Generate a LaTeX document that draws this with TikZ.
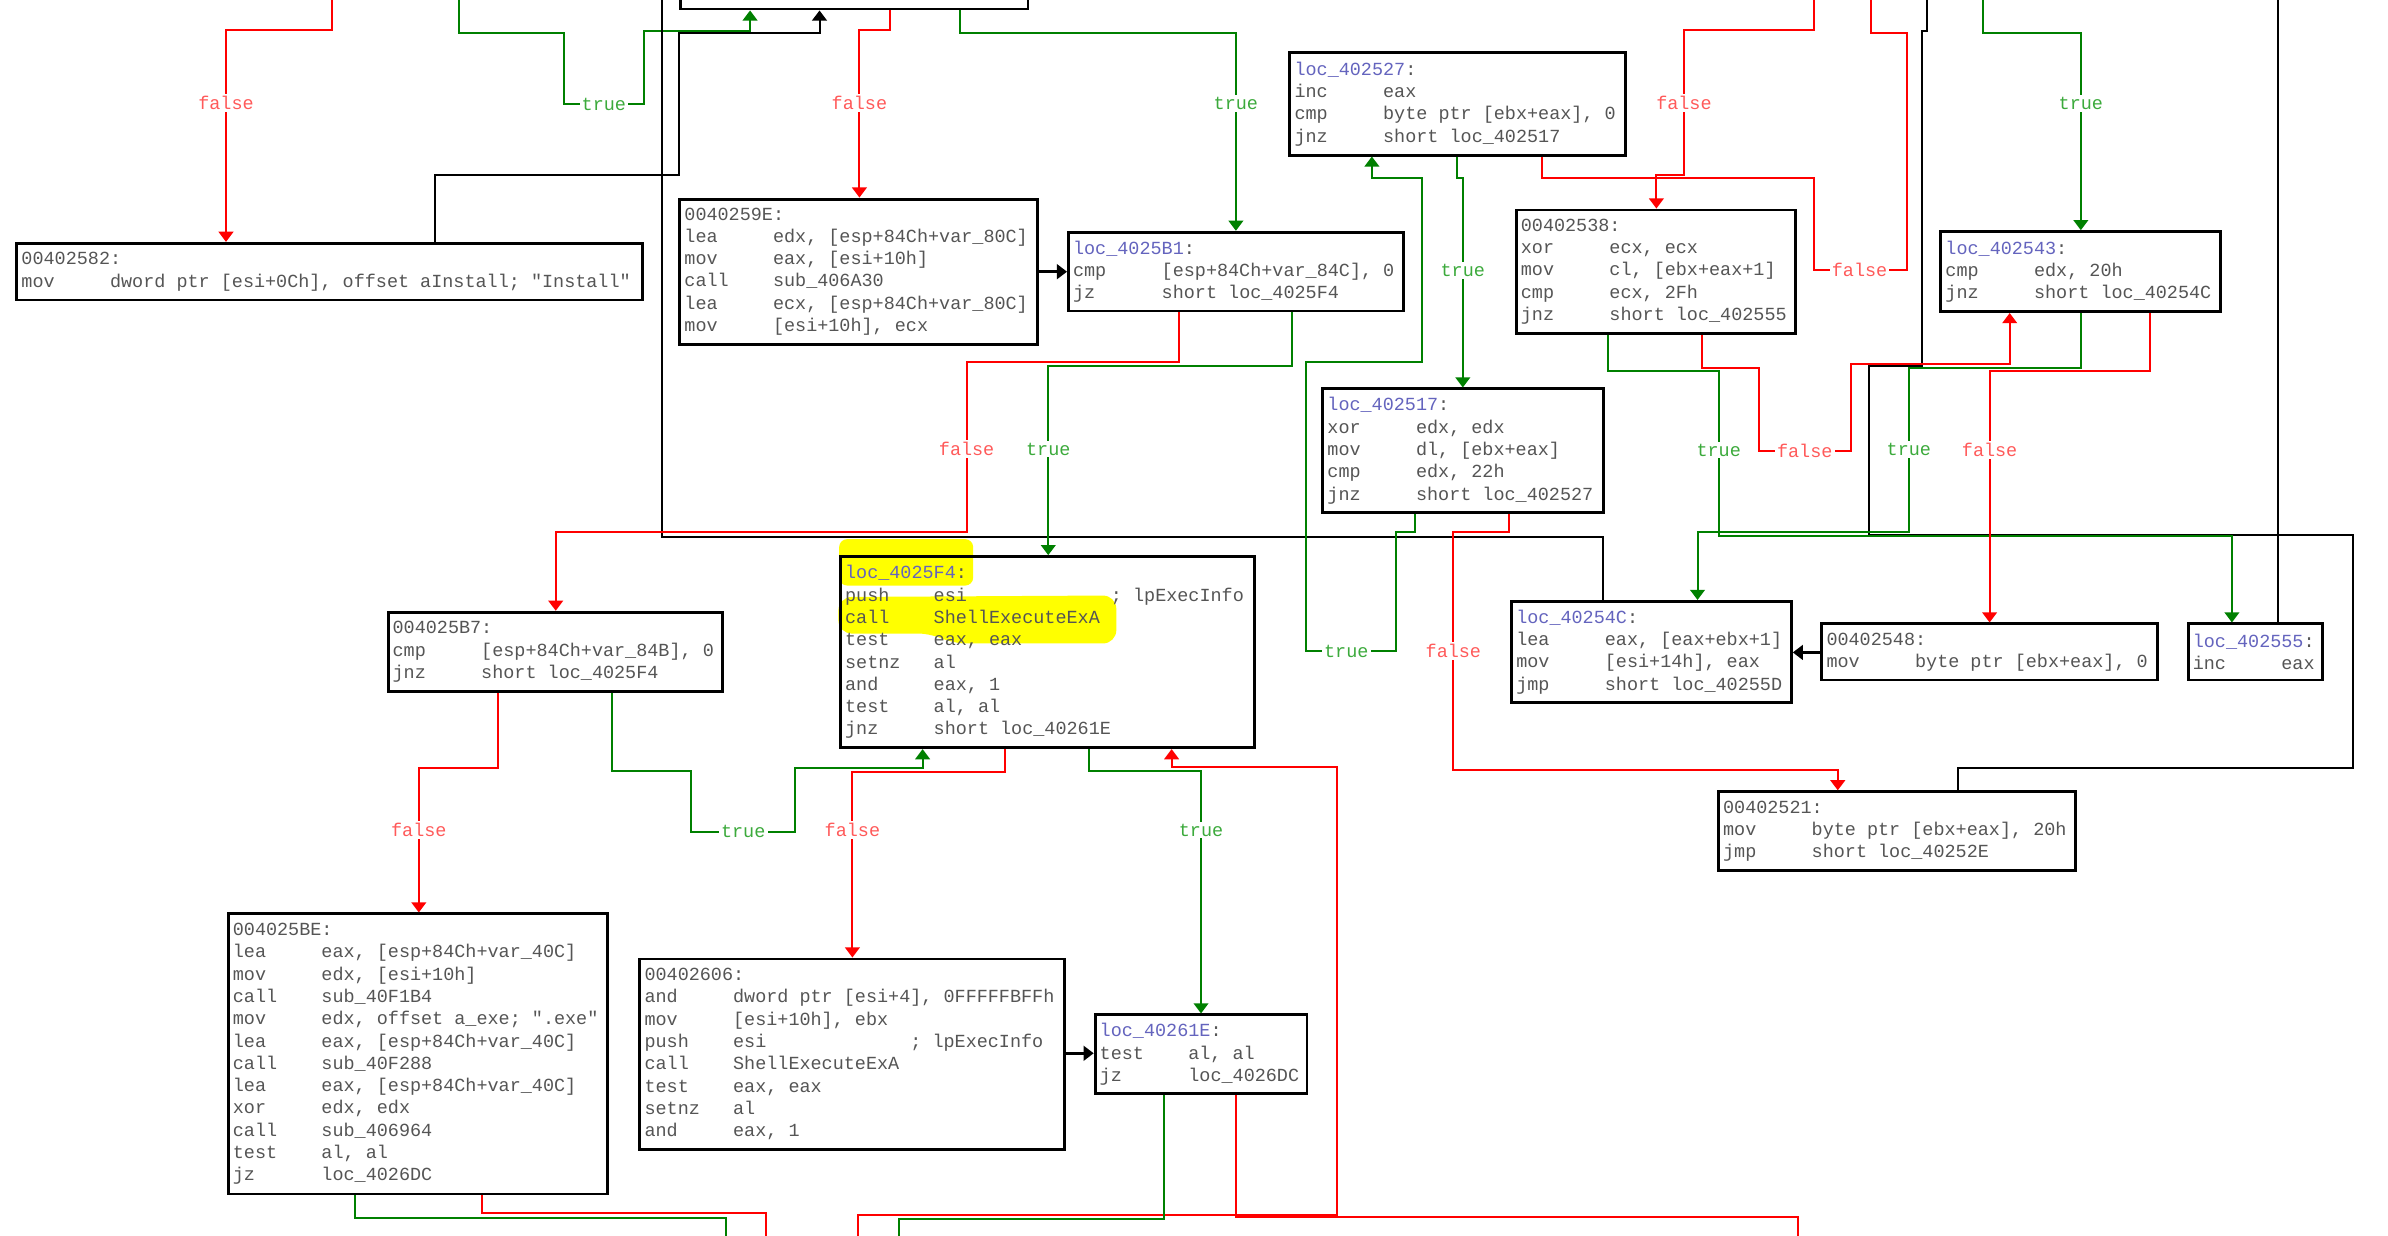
\documentclass[tikz,border=0pt]{standalone}
\usepackage{fontspec}
\setmonofont{Liberation Mono}
\usetikzlibrary{arrows.meta}
\definecolor{ered}{RGB}{255,0,0}
\definecolor{egreen}{RGB}{0,128,0}
\definecolor{lred}{RGB}{255,90,90}
\definecolor{lgreen}{RGB}{60,170,60}
\definecolor{itext}{RGB}{85,85,85}
\definecolor{locblue}{RGB}{100,100,190}
\definecolor{hl}{RGB}{255,255,0}
\newcommand\ia[2]{\mbox{\spaceskip=0.6em\relax\makebox[4.8em][l]{#1}#2}}
\newcommand\loclbl[1]{\textcolor{locblue}{#1}:}
\newcommand\blk[6]{%
  \pgfmathsetmacro\bw{(#4-(#2))*0.02}%
  \pgfmathsetmacro\bh{(#5-(#3))*0.02}%
  \pgfmathsetmacro\tw{(#4-(#2))*0.02-0.12}%
  \node[blockbox,minimum width=\bw cm,minimum height=\bh cm,text width=\tw cm] (#1) at ({(#2+#4)/2},{(#3+#5)/2}) {#6};}
\begin{document}
\begin{tikzpicture}[x=0.02cm,y=-0.02cm,
  blockbox/.style={draw=black,line width=1.1pt,inner xsep=0.06cm,inner ysep=0pt,align=left,text=itext,font=\ttfamily\fontsize{6.9}{8.33}\selectfont},
  eR/.style={draw=ered,line width=0.75pt},
  eG/.style={draw=egreen,line width=0.75pt},
  eK/.style={draw=black,line width=0.75pt},
  eKK/.style={draw=black,line width=1.2pt},
  arr/.style={-{Triangle[width=5.5pt,length=3.8pt]}},
  elbl/.style={fill=white,inner sep=0.8pt,font=\ttfamily\fontsize{6.9}{8}\selectfont}]
\useasboundingbox (0,0) rectangle (1568,811);
\clip (0,0) rectangle (1568,811);
\fill[white] (0,0) rectangle (1568,811);

% highlights
\fill[hl,rounded corners=3pt] (551,354) -- (639,354) -- (639,384.5) -- (551,384.5) -- cycle;
\fill[hl,rounded corners=5pt] (550.5,392) -- (733,391) -- (733,422.5) -- (625,422.5) -- (612,416) -- (550.5,416) -- cycle;

% blocks
\blk{nA}{447}{-60}{675}{5.9}{}
\blk{nB}{11.1}{159.8}{422}{197}{00402582:\\\ia{mov}{dword ptr [esi+0Ch], offset aInstall; "Install"}}
\blk{nC}{446.4}{130.7}{681.5}{225.9}{0040259E:\\\ia{lea}{edx, [esp+84Ch+var\_80C]}\\\ia{mov}{eax, [esi+10h]}\\\ia{call}{sub\_406A30}\\\ia{lea}{ecx, [esp+84Ch+var\_80C]}\\\ia{mov}{[esi+10h], ecx}}
\blk{nD}{701.6}{152.5}{921.7}{204.2}{\loclbl{loc\_4025B1}\\\ia{cmp}{[esp+84Ch+var\_84C], 0}\\\ia{jz}{short loc\_4025F4}}
\blk{nE}{847}{34.6}{1067.1}{101.8}{\loclbl{loc\_402527}\\\ia{inc}{eax}\\\ia{cmp}{byte ptr [ebx+eax], 0}\\\ia{jnz}{short loc\_402517}}
\blk{nF}{995.6}{137.9}{1179}{218.9}{00402538:\\\ia{xor}{ecx, ecx}\\\ia{mov}{cl, [ebx+eax+1]}\\\ia{cmp}{ecx, 2Fh}\\\ia{jnz}{short loc\_402555}}
\blk{nG}{1274.4}{152.1}{1457.8}{204.6}{\loclbl{loc\_402543}\\\ia{cmp}{edx, 20h}\\\ia{jnz}{short loc\_40254C}}
\blk{nH}{868.6}{255.4}{1052.7}{336.5}{\loclbl{loc\_402517}\\\ia{xor}{edx, edx}\\\ia{mov}{dl, [ebx+eax]}\\\ia{cmp}{edx, 22h}\\\ia{jnz}{short loc\_402527}}
\blk{nI}{992.6}{394.9}{1176.2}{461.3}{\loclbl{loc\_40254C}\\\ia{lea}{eax, [eax+ebx+1]}\\\ia{mov}{[esi+14h], eax}\\\ia{jmp}{short loc\_40255D}}
\blk{nJ}{1196.3}{409.7}{1416.8}{446.5}{00402548:\\\ia{mov}{byte ptr [ebx+eax], 0}}
\blk{nK}{1436.8}{409.7}{1524.8}{446.5}{\loclbl{loc\_402555}\\\ia{inc}{eax}}
\blk{nL}{1128.4}{519.9}{1363}{571.5}{00402521:\\\ia{mov}{byte ptr [ebx+eax], 20h}\\\ia{jmp}{short loc\_40252E}}
\blk{nM}{551.9}{365.5}{823.6}{490.9}{\loclbl{loc\_4025F4}\\\ia{push}{\makebox[9.6em][l]{esi}; lpExecInfo}\\\ia{call}{ShellExecuteExA}\\\ia{test}{eax, eax}\\\ia{setnz}{al}\\\ia{and}{eax, 1}\\\ia{test}{al, al}\\\ia{jnz}{short loc\_40261E}}
\blk{nN}{254.8}{402}{474.5}{454.2}{004025B7:\\\ia{cmp}{[esp+84Ch+var\_84B], 0}\\\ia{jnz}{short loc\_4025F4}}
\blk{nO}{149.9}{600.1}{399.1}{784}{004025BE:\\\ia{lea}{eax, [esp+84Ch+var\_40C]}\\\ia{mov}{edx, [esi+10h]}\\\ia{call}{sub\_40F1B4}\\\ia{mov}{edx, offset a\_exe; ".exe"}\\\ia{lea}{eax, [esp+84Ch+var\_40C]}\\\ia{call}{sub\_40F288}\\\ia{lea}{eax, [esp+84Ch+var\_40C]}\\\ia{xor}{edx, edx}\\\ia{call}{sub\_406964}\\\ia{test}{al, al}\\\ia{jz}{loc\_4026DC}}
\blk{nP}{420.2}{629.7}{699}{754.6}{00402606:\\\ia{and}{dword ptr [esi+4], 0FFFFFBFFh}\\\ia{mov}{[esi+10h], ebx}\\\ia{push}{\makebox[9.6em][l]{esi}; lpExecInfo}\\\ia{call}{ShellExecuteExA}\\\ia{test}{eax, eax}\\\ia{setnz}{al}\\\ia{and}{eax, 1}}
\blk{nQ}{719.1}{666.4}{858.2}{718.3}{\loclbl{loc\_40261E}\\\ia{test}{al, al}\\\ia{jz}{loc\_4026DC}}

% off-screen end points
\coordinate (t1) at (217.7,-5);
\coordinate (t2) at (301.5,-5);
\coordinate (t4) at (434.8,-5);
\coordinate (t12) at (1265.2,-5);
\coordinate (t13) at (1496,-5);
\coordinate (t15) at (1191,-5);
\coordinate (t16) at (1228.2,-5);
\coordinate (t17) at (1302,-5);
\coordinate (b26) at (563.6,816);
\coordinate (b28) at (476.5,816);
\coordinate (b29) at (502.8,816);
\coordinate (b30) at (590.2,816);
\coordinate (b31) at (1180.3,816);

% edges
\draw[eR,arr] (t1) -- (217.7,19.7) -- (148.4,19.7) -- (nB.north -| 148.4,0);
\draw[eG,arr] (t2) -- (301.5,21.4) -- (370.2,21.4) -- (370.2,68.3) -- (422.8,68.3) -- (422.8,20.1) -- (492.5,20.1) -- (nA.south -| 492.5,0);
\draw[eK,arr] (nB.north -| 285.7,0) -- (285.7,114.9) -- (445.6,114.9) -- (445.6,21.9) -- (538.1,21.9) -- (nA.south -| 538.1,0);
\draw[eK] (nI.north -| 1052.6,0) -- (1052.6,352.8) -- (434.8,352.8) -- (t4);
\draw[eR,arr] (nA.south -| 584.4,0) -- (584.4,19.7) -- (564.3,19.7) -- (nC.north -| 564.3,0);
\draw[eG,arr] (nA.south -| 630.3,0) -- (630.3,21.4) -- (811.5,21.4) -- (nD.north -| 811.5,0);
\draw[eKK,arr] (nC.east |- 0,178.4) -- (nD.west |- 0,178.4);
\draw[eR,arr] (nD.south -| 774,0) -- (774,237.5) -- (634.7,237.5) -- (634.7,349.1) -- (364.9,349.1) -- (nN.north -| 364.9,0);
\draw[eG,arr] (nD.south -| 848.3,0) -- (848.3,240.1) -- (688.3,240.1) -- (nM.north -| 688.3,0);
\draw[eG,arr] (nE.south -| 957,0) -- (957,117.1) -- (960.5,117.1) -- (nH.north -| 960.5,0);
\draw[eG,arr] (nH.south -| 929.3,0) -- (929.3,349.6) -- (916.4,349.6) -- (916.4,427.6) -- (857.5,427.6) -- (857.5,237.6) -- (933.8,237.6) -- (933.8,117.1) -- (900.8,117.1) -- (nE.south -| 900.8,0);
\draw[eR,arr] (nH.south -| 990.8,0) -- (990.8,349.2) -- (954.3,349.2) -- (954.3,505.8) -- (1206.7,505.8) -- (nL.north -| 1206.7,0);
\draw[eK] (nL.north -| 1285.5,0) -- (1285.5,504.2) -- (1544.7,504.2) -- (1544.7,351) -- (1227.1,351) -- (1227.1,240) -- (1262.3,240) -- (1262.3,20.5) -- (1265.2,20.5) -- (t12);
\draw[eK] (nK.north -| 1496,0) -- (t13);
\draw[eKK,arr] (nJ.west |- 0,428.4) -- (nI.east |- 0,428.4);
\draw[eR,arr] (t15) -- (1191,19.7) -- (1105.7,19.7) -- (1105.7,114.9) -- (1087.6,114.9) -- (nF.north -| 1087.6,0);
\draw[eR] (nE.south -| 1012.3,0) -- (1012.3,117.1) -- (1191,117.1) -- (1191,177.5) -- (1252,177.5) -- (1252,21.4) -- (1228.2,21.4) -- (t16);
\draw[eG,arr] (t17) -- (1302,21.4) -- (1366.3,21.4) -- (nG.north -| 1366.3,0);
\draw[eG,arr] (nF.south -| 1056,0) -- (1056,243.5) -- (1128.5,243.5) -- (1128.5,351.8) -- (1465.5,351.8) -- (nK.north -| 1465.5,0);
\draw[eR,arr] (nF.south -| 1117.4,0) -- (1117.4,241.8) -- (1155,241.8) -- (1155,296.2) -- (1215.5,296.2) -- (1215.5,238.8) -- (1319.6,238.8) -- (nG.south -| 1319.6,0);
\draw[eG,arr] (nG.south -| 1366.3,0) -- (1366.3,241.8) -- (1253.4,241.8) -- (1253.4,349.2) -- (1114.6,349.2) -- (nI.north -| 1114.6,0);
\draw[eR,arr] (nG.south -| 1412,0) -- (1412,243.4) -- (1306.4,243.4) -- (nJ.north -| 1306.4,0);
\draw[eR,arr] (nN.south -| 327,0) -- (327,504.5) -- (275,504.5) -- (nO.north -| 275,0);
\draw[eG,arr] (nN.south -| 401.7,0) -- (401.7,506) -- (453.7,506) -- (453.7,546) -- (521.9,546) -- (521.9,504.5) -- (605.8,504.5) -- (nM.south -| 605.8,0);
\draw[eR,arr] (nM.south -| 660,0) -- (660,507) -- (559.7,507) -- (nP.north -| 559.7,0);
\draw[eG,arr] (nM.south -| 714.9,0) -- (714.9,506) -- (788.6,506) -- (nQ.north -| 788.6,0);
\draw[eR,arr] (b26) -- (563.6,797.8) -- (877.8,797.8) -- (877.8,503.4) -- (769.3,503.4) -- (nM.south -| 769.3,0);
\draw[eKK,arr] (nP.east |- 0,691.6) -- (nQ.west |- 0,691.6);
\draw[eG] (nO.south -| 233.3,0) -- (233.3,800) -- (476.5,800) -- (b28);
\draw[eR] (nO.south -| 316.2,0) -- (316.2,796.7) -- (502.8,796.7) -- (b29);
\draw[eG] (nQ.south -| 764.5,0) -- (764.5,800.6) -- (590.2,800.6) -- (b30);
\draw[eR] (nQ.south -| 811.7,0) -- (811.7,799) -- (1180.3,799) -- (b31);

% edge labels
\node[elbl,text=lred] (l1) at (148.4,67.8) {false};
\node[elbl,text=lgreen] (l2) at (396.5,68.3) {true};
\node[elbl,text=lred] (l3) at (564.3,67.8) {false};
\node[elbl,text=lgreen] (l4) at (811.5,67.8) {true};
\node[elbl,text=lred] (l5) at (1105.7,67.8) {false};
\node[elbl,text=lgreen] (l6) at (1366.3,67.8) {true};
\node[elbl,text=lgreen] (l7) at (960.5,177.5) {true};
\node[elbl,text=lred] (l8) at (1221,177.5) {false};
\node[elbl,text=lred] (l9) at (634.7,294.8) {false};
\node[elbl,text=lgreen] (l10) at (688.3,294.8) {true};
\node[elbl,text=lgreen] (l11) at (1128.5,295.5) {true};
\node[elbl,text=lred] (l12) at (1185,296.2) {false};
\node[elbl,text=lgreen] (l13) at (1253.4,295.2) {true};
\node[elbl,text=lred] (l14) at (1306.4,295.2) {false};
\node[elbl,text=lgreen] (l15) at (884,427.6) {true};
\node[elbl,text=lred] (l16) at (954.3,427.2) {false};
\node[elbl,text=lred] (l17) at (275,545) {false};
\node[elbl,text=lgreen] (l18) at (488,546) {true};
\node[elbl,text=lred] (l19) at (559.7,545) {false};
\node[elbl,text=lgreen] (l20) at (788.6,545) {true};
\end{tikzpicture}
\end{document}
